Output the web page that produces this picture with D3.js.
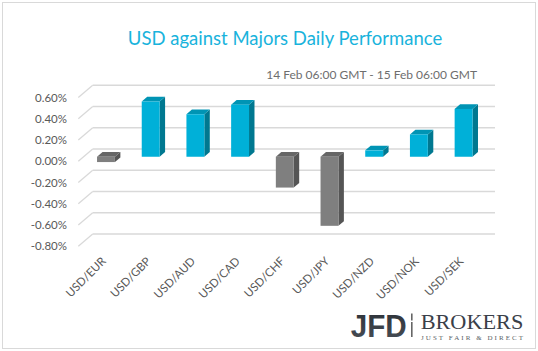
<!DOCTYPE html>
<html>
<head>
<meta charset="utf-8">
<script src="https://cdn.jsdelivr.net/npm/d3@7"></script>
<style>
  html, body { margin: 0; padding: 0; background: #fff; }
  svg { display: block; }
</style>
</head>
<body>
<svg id="chart"></svg>
<script>
const width = 538;
const height = 351;

// data (values in %)
const categories = ["USD/EUR", "USD/GBP", "USD/AUD", "USD/CAD", "USD/CHF", "USD/JPY", "USD/NZD", "USD/NOK", "USD/SEK"];
const values = [-0.05, 0.52, 0.40, 0.49, -0.29, -0.65, 0.06, 0.21, 0.45];
const yTicks = [0.6, 0.4, 0.2, 0.0, -0.2, -0.4, -0.6, -0.8];

const titleText = "USD against Majors Daily Performance";
const subtitleText = "14 Feb 06:00 GMT - 15 Feb 06:00 GMT";

// fake 3d: offset of the back wall from the front plane
const wallDx = 14.4;
const wallDy = -12.3;
const barFront = 0.37;
const barBack = 0.75;

const font = "Lato, 'Open Sans', sans-serif";

const svg = d3.select("#chart")
    .attr("width", width)
    .attr("height", height)
    .attr("viewBox", [0, 0, width, height]);

// outer border
svg.append("rect")
    .attr("x", 2.5).attr("y", 2.5)
    .attr("width", 533).attr("height", 346)
    .attr("fill", "#fff")
    .attr("stroke", "#d9d9d9");

const xScale = d3.scaleBand()
    .domain(categories)
    .range([78.3, 480.6])
    .paddingInner(0.6)
    .paddingOuter(0.3);

const yScale = d3.scaleLinear()
    .domain([-0.8, 0.6])
    .range([246.3, 97.55]);

const x0 = xScale.range()[0];
const x1 = xScale.range()[1];

// gridlines on the back wall + the diagonal on the left side
const grid = svg.append("g")
    .attr("stroke", "#d9d9d9")
    .attr("stroke-width", 1.3)
    .attr("fill", "none");

grid.selectAll("line.back")
    .data(yTicks)
    .join("line")
    .attr("class", "back")
    .attr("x1", x0 + wallDx)
    .attr("x2", x1 + wallDx)
    .attr("y1", d => yScale(d) + wallDy)
    .attr("y2", d => yScale(d) + wallDy);

grid.selectAll("line.side")
    .data(yTicks)
    .join("line")
    .attr("class", "side")
    .attr("x1", x0)
    .attr("x2", x0 + wallDx)
    .attr("y1", d => yScale(d))
    .attr("y2", d => yScale(d) + wallDy);

//Y-axis labels
svg.append("g")
    .attr("transform", "translate(70,0)")
    .call(d3.axisLeft(yScale)
        .tickValues(yTicks)
        .tickSize(0)
        .tickPadding(3)
        .tickFormat(d => d.toFixed(2) + "%"))
    .call(g => g.select(".domain").remove())
    .call(g => g.selectAll("text")
        .attr("fill", "#595959")
        .attr("font-family", font)
        .attr("font-size", "11.5px"));

// bars
const colors = {
    up: { front: "#00b0d8", side: "#007890", top: "#0094b4" },
    down: { front: "#7f7f7f", side: "#555555", top: "#666666" }
};

const fdx = barFront * wallDx, fdy = barFront * wallDy;
const bdx = barBack * wallDx, bdy = barBack * wallDy;

const bars = svg.append("g")
    .selectAll("g.bar")
    .data(categories.map((c, i) => ({ name: c, value: values[i] })))
    .join("g")
    .attr("class", "bar");

bars.each(function (d) {
    const g = d3.select(this);
    const c = d.value >= 0 ? colors.up : colors.down;
    const left = xScale(d.name) + fdx;
    const right = left + xScale.bandwidth();
    const top = yScale(Math.max(d.value, 0)) + fdy;
    const bottom = yScale(Math.min(d.value, 0)) + fdy;
    const ox = bdx - fdx, oy = bdy - fdy;

    // side face
    g.append("polygon")
        .attr("points", [[right, top], [right + ox, top + oy], [right + ox, bottom + oy], [right, bottom]].join(" "))
        .attr("fill", c.side);
    // top face
    g.append("polygon")
        .attr("points", [[left, top], [left + ox, top + oy], [right + ox, top + oy], [right, top]].join(" "))
        .attr("fill", c.top);
    // front face
    g.append("rect")
        .attr("x", left)
        .attr("y", top)
        .attr("width", xScale.bandwidth())
        .attr("height", bottom - top)
        .attr("fill", c.front);
});

//X-axis labels, rotated
svg.append("g")
    .selectAll("text")
    .data(categories)
    .join("text")
    .attr("transform", d => `translate(${xScale(d) + xScale.bandwidth() / 2 + 6},${262}) rotate(-45)`)
    .attr("text-anchor", "end")
    .attr("fill", "#595959")
    .attr("font-family", font)
    .attr("font-size", "11.5px")
    .text(d => d);

//Title + subtitle
svg.append("text")
    .attr("x", 285)
    .attr("y", 45)
    .attr("text-anchor", "middle")
    .attr("fill", "#19b3dc")
    .attr("font-family", font)
    .attr("font-size", "18.5px")
    .text(titleText);

svg.append("text")
    .attr("x", 477)
    .attr("y", 79)
    .attr("text-anchor", "end")
    .attr("fill", "#6e6e6e")
    .attr("font-family", font)
    .attr("font-size", "12px")
    .text(subtitleText);

// logo
const logo = svg.append("g");
const grad = svg.append("defs").append("linearGradient")
    .attr("id", "jfdGrad")
    .attr("x1", 0).attr("y1", 0).attr("x2", 0).attr("y2", 1);
grad.append("stop").attr("offset", "0%").attr("stop-color", "#2b3036");
grad.append("stop").attr("offset", "100%").attr("stop-color", "#4a5058");

logo.append("text")
    .attr("x", 350.7)
    .attr("y", 336.7)
    .attr("font-family", "'Liberation Sans', Arial, sans-serif")
    .attr("font-weight", "bold")
    .attr("font-size", "32px")
    .attr("textLength", 56)
    .attr("lengthAdjust", "spacingAndGlyphs")
    .attr("fill", "url(#jfdGrad)")
    .text("JFD");

logo.append("rect")
    .attr("x", 411).attr("y", 313.5)
    .attr("width", 1.6).attr("height", 7)
    .attr("fill", "#666");
logo.append("rect")
    .attr("x", 411).attr("y", 322)
    .attr("width", 1.6).attr("height", 15)
    .attr("fill", "#666");

logo.append("text")
    .attr("x", 420.7)
    .attr("y", 329.3)
    .attr("font-family", "'Liberation Serif', 'DejaVu Serif', serif")
    .attr("font-size", "21px")
    .attr("textLength", 102.6)
    .attr("lengthAdjust", "spacingAndGlyphs")
    .attr("fill", "#3a4049")
    .text("BROKERS");

logo.append("text")
    .attr("x", 421)
    .attr("y", 340.3)
    .attr("font-family", "'Liberation Serif', 'DejaVu Serif', serif")
    .attr("font-size", "7px")
    .attr("textLength", 102)
    .attr("lengthAdjust", "spacing")
    .attr("fill", "#5a5f66")
    .text("JUST FAIR & DIRECT");
</script>
</body>
</html>
